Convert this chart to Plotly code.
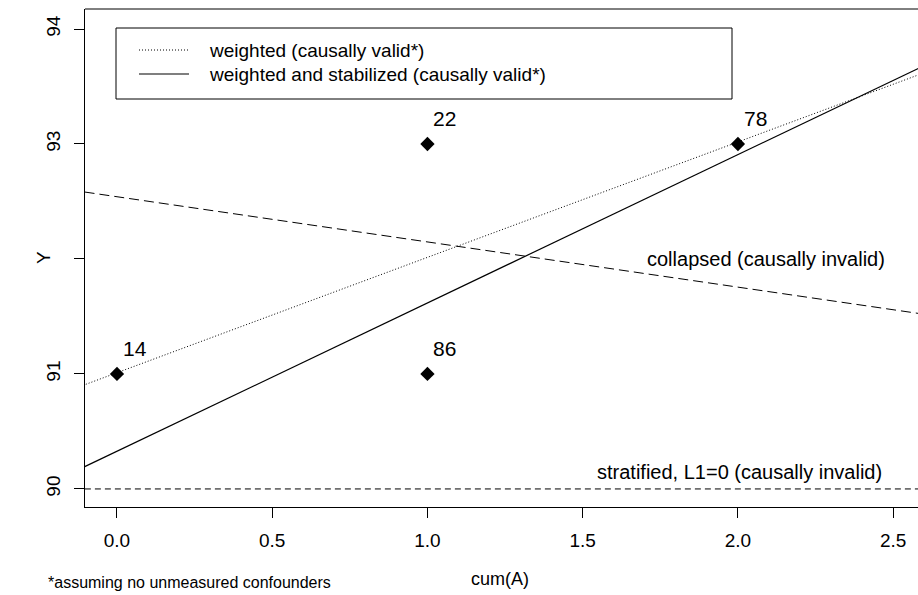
import plotly.graph_objects as go

# ---- data ----
point_x = [0, 1, 1, 2]
point_y = [91, 93, 91, 93]
point_labels = ["14", "22", "86", "78"]

line_x = [-0.2, 2.7]
weighted_y = [90.81, 93.72]
stabilized_y = [90.07, 93.81]
collapsed_y = [92.62, 91.48]
stratified_y = [90.0, 90.0]

x_ticks = [0.0, 0.5, 1.0, 1.5, 2.0, 2.5]
x_tick_labels = ["0.0", "0.5", "1.0", "1.5", "2.0", "2.5"]
y_ticks = [90, 91, 92, 93, 94]
y_tick_labels = ["90", "91", "", "93", "94"]

legend_labels = ["weighted (causally valid*)", "weighted and stabilized (causally valid*)"]
collapsed_label = "collapsed (causally invalid)"
stratified_label = "stratified, L1=0 (causally invalid)"
footnote = "*assuming no unmeasured confounders"

# ---- layout geometry ----
W, H = 918, 595
L, R, T, B = 85, 0, 9, 88
PW, PH = W - L - R, H - T - B

def px(xp):
    return (xp - L) / PW

def py(yp):
    return 1 - (yp - T) / PH

FONT = "Liberation Sans, Arial, Helvetica, sans-serif"

fig = go.Figure()

fig.add_trace(go.Scatter(x=line_x, y=weighted_y, mode="lines",
                         line=dict(color="black", width=1, dash="1px,2px"), showlegend=False))
fig.add_trace(go.Scatter(x=line_x, y=stabilized_y, mode="lines",
                         line=dict(color="black", width=1.2), showlegend=False))
fig.add_trace(go.Scatter(x=line_x, y=collapsed_y, mode="lines",
                         line=dict(color="black", width=1, dash="10px,5px"), showlegend=False))
fig.add_trace(go.Scatter(x=line_x, y=stratified_y, mode="lines",
                         line=dict(color="black", width=1, dash="6px,4px"), showlegend=False))
fig.add_trace(go.Scatter(x=point_x, y=point_y, mode="markers",
                         marker=dict(symbol="diamond", size=11, color="black"),
                         showlegend=False, cliponaxis=False))

annotations = []
for xv, yv, lab in zip(point_x, point_y, point_labels):
    annotations.append(dict(x=xv, y=yv, xref="x", yref="y", text=lab, showarrow=False,
                            xanchor="left", yanchor="bottom", xshift=4, yshift=12,
                            font=dict(size=21, color="black", family=FONT)))

annotations.append(dict(x=2.09, y=92.0, xref="x", yref="y", text=collapsed_label,
                        showarrow=False, xanchor="center", yanchor="middle",
                        font=dict(size=20, color="black", family=FONT)))
annotations.append(dict(x=2.005, y=90.15, xref="x", yref="y", text=stratified_label,
                        showarrow=False, xanchor="center", yanchor="middle",
                        font=dict(size=20, color="black", family=FONT)))

# legend text
legend_y_px = [50, 74]
for lab, yp in zip(legend_labels, legend_y_px):
    annotations.append(dict(x=px(207), y=py(yp), xref="paper", yref="paper", text=lab,
                            showarrow=False, xanchor="left", yanchor="middle",
                            font=dict(size=19, color="black", family=FONT)))

# axis titles and footnote
annotations.append(dict(x=px(500), y=py(579), xref="paper", yref="paper", text="cum(A)",
                        showarrow=False, xanchor="center", yanchor="middle",
                        font=dict(size=18, color="black", family=FONT)))
annotations.append(dict(x=px(43), y=py(258), xref="paper", yref="paper", text="Y",
                        showarrow=False, xanchor="center", yanchor="middle", textangle=-90,
                        font=dict(size=19, color="black", family=FONT)))
annotations.append(dict(x=px(46), y=py(582), xref="paper", yref="paper", text=footnote,
                        showarrow=False, xanchor="left", yanchor="middle",
                        font=dict(size=16, color="black", family=FONT)))

shapes = [
    # top border of the plot box
    dict(type="line", xref="paper", yref="paper", x0=0, x1=1, y0=1, y1=1,
         line=dict(color="black", width=1)),
    # legend box
    dict(type="rect", xref="paper", yref="paper", x0=px(116), x1=px(732), y0=py(28), y1=py(99),
         line=dict(color="black", width=1), fillcolor="white", layer="above"),
    # legend samples
    dict(type="line", xref="paper", yref="paper", x0=px(139), x1=px(189), y0=py(50), y1=py(50),
         line=dict(color="black", width=1, dash="1px,2px")),
    dict(type="line", xref="paper", yref="paper", x0=px(139), x1=px(189), y0=py(74), y1=py(74),
         line=dict(color="black", width=1.2)),
]

fig.update_layout(
    width=W, height=H,
    margin=dict(l=L, r=R, t=T, b=B, pad=0),
    paper_bgcolor="white", plot_bgcolor="white",
    font=dict(family=FONT, color="black"),
    showlegend=False,
    annotations=annotations,
    shapes=shapes,
    xaxis=dict(range=[-0.103, 2.58], tickvals=x_ticks, ticktext=x_tick_labels,
               showgrid=False, zeroline=False, showline=True, linecolor="black", linewidth=1,
               ticks="outside", ticklen=10, tickcolor="black", tickwidth=1,
               ticklabelstandoff=6,
               tickfont=dict(size=19, color="black", family=FONT)),
    yaxis=dict(range=[89.843, 94.174], tickvals=y_ticks, ticktext=y_tick_labels,
               showgrid=False, zeroline=False, showline=True, linecolor="black", linewidth=1,
               ticks="outside", ticklen=10, tickcolor="black", tickwidth=1, tickangle=-90,
               ticklabelstandoff=6,
               tickfont=dict(size=19, color="black", family=FONT)),
)

fig.write_html("out.html")
